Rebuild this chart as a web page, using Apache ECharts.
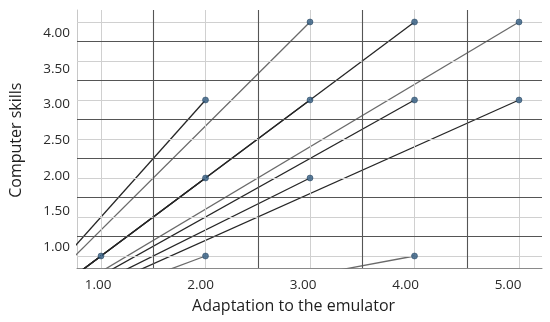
<!DOCTYPE html>
<html>
<head>
<meta charset="utf-8">
<script src="https://cdn.jsdelivr.net/npm/echarts@6/dist/echarts.min.js"></script>
<style>
html,body{margin:0;padding:0;background:#fff;}
#chart{width:550px;height:322px;}
</style>
</head>
<body>
<div id="chart"></div>
<script>
// Data points (Adaptation to the emulator, Computer skills)
const adaptation     = [1, 2, 2, 2, 3, 3, 3, 4, 4, 4, 5, 5];
const computerSkills = [1, 3, 2, 1, 4, 3, 2, 4, 3, 1, 4, 3];
// Tick labels
const xTickLabels = ['1.00', '2.00', '3.00', '4.00', '5.00'];
const yTickLabels = ['1.00', '1.50', '2.00', '2.50', '3.00', '3.50', '4.00'];
// Grid line values
const xLightGrid = [1, 2, 3, 4, 5];
const xDarkGrid  = [1.5, 2.5, 3.5, 4.5];
const yLightGrid = [1, 1.5, 2, 2.5, 3, 3.5, 4];
const yDarkGrid  = [1.25, 1.75, 2.25, 2.75, 3.25, 3.75];

const DARK = '#262626', GRAY = '#6a6a6a';
function shadeFor(x, y) {
  // lines drawn lighter for these points
  if ((x === 3 && y === 4) || (x === 5 && y === 4) || (x === 2 && y === 1) || (x === 4 && y === 1)) return GRAY;
  return DARK;
}

const FONT = '"Open Sans", "Noto Sans", sans-serif';
const chart = echarts.init(document.getElementById('chart'), null, {renderer: 'canvas'});

const series = [];
// grid lines via markLine
series.push({
  type: 'line', xAxisIndex: 0, yAxisIndex: 0, data: [], silent: true, z: 1,
  markLine: {
    silent: true, symbol: 'none', animation: false, label: {show: false},
    data: [
      ...xLightGrid.map(v => ({xAxis: v, lineStyle: {color: '#d0d0d0', width: 1, type: 'solid'}})),
      ...yLightGrid.map(v => ({yAxis: v, lineStyle: {color: '#d0d0d0', width: 1, type: 'solid'}})),
      ...xDarkGrid.map(v => ({xAxis: v, lineStyle: {color: '#555555', width: 1.1, type: 'solid'}})),
      ...yDarkGrid.map(v => ({yAxis: v, lineStyle: {color: '#555555', width: 1.1, type: 'solid'}}))
    ]
  }
});
// lines from origin to each point
adaptation.forEach((x, i) => {
  const y = computerSkills[i];
  series.push({
    type: 'line', xAxisIndex: 0, yAxisIndex: 0, clip: true, z: 3,
    symbol: 'none', silent: true, animation: false,
    lineStyle: {color: shadeFor(x, y), width: 1.3},
    data: [[0, 0], [x, y]]
  });
});
// points
series.push({
  type: 'scatter', xAxisIndex: 0, yAxisIndex: 0, z: 5, animation: false,
  symbolSize: 6,
  itemStyle: {color: '#2f5a80', borderColor: '#1d3a56', borderWidth: 0.6},
  data: adaptation.map((x, i) => [x, computerSkills[i]])
});

chart.setOption({
  backgroundColor: '#ffffff',
  animation: false,
  grid: [
    {left: 77, right: 8, top: 10, bottom: 54},           // data grid
    {left: 77, right: 8, top: 33, height: 214.3},        // y label grid
    {left: 98.2, width: 409.8, top: 10, bottom: 54}      // x label grid
  ],
  xAxis: [
    {type: 'value', gridIndex: 0, min: 0.7703, max: 5.22,
     axisLine: {show: true, onZero: false, lineStyle: {color: '#8a8a8a', width: 1}},
     axisTick: {show: false}, axisLabel: {show: false}, splitLine: {show: false}},
    {type: 'value', gridIndex: 1, show: false},
    {type: 'category', gridIndex: 2, data: xTickLabels, boundaryGap: false,
     axisLine: {show: false}, axisTick: {show: false}, splitLine: {show: false},
     axisLabel: {show: true, margin: 10, color: '#2a2a2a', fontSize: 13.5, fontFamily: FONT},
     name: 'Adaptation to the emulator', nameLocation: 'middle', nameGap: 30,
     nameTextStyle: {color: '#1e1e1e', fontSize: 16, fontFamily: FONT, padding: [0, 19, 0, 0]}}
  ],
  yAxis: [
    {type: 'value', gridIndex: 0, min: 0.8462, max: 4.1538,
     axisLine: {show: true, onZero: false, lineStyle: {color: '#c8c8c8', width: 1}},
     axisTick: {show: false}, axisLabel: {show: false}, splitLine: {show: false}},
    {type: 'category', gridIndex: 1, data: yTickLabels, boundaryGap: false,
     axisLine: {show: false}, axisTick: {show: false}, splitLine: {show: false},
     axisLabel: {show: true, margin: 11, color: '#2a2a2a', fontSize: 13.5, fontFamily: FONT},
     name: 'Computer skills', nameLocation: 'middle', nameGap: 57, nameRotate: 90,
     nameTextStyle: {color: '#1e1e1e', fontSize: 16, fontFamily: FONT}},
    {type: 'value', gridIndex: 2, show: false}
  ],
  series: series
});
</script>
</body>
</html>
